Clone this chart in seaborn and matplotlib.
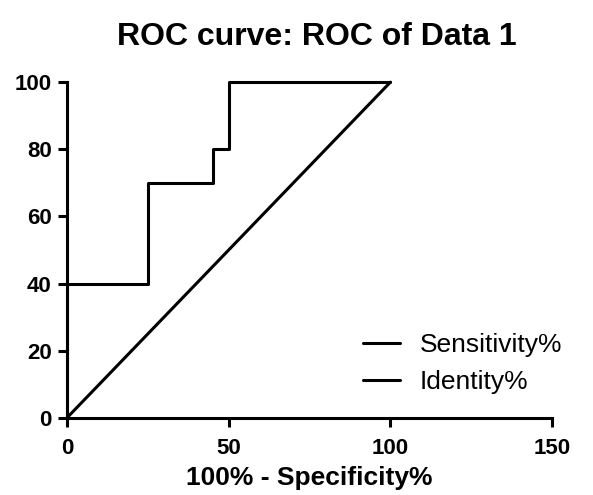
import matplotlib
matplotlib.use("Agg")
import matplotlib.pyplot as plt
import seaborn as sns
import pandas as pd

sns.set_theme(style="ticks", rc={"text.color": "black", "axes.labelcolor": "black",
                                 "xtick.color": "black", "ytick.color": "black",
                                 "axes.edgecolor": "black"})
plt.rcParams['font.family'] = ['Liberation Sans', 'DejaVu Sans']

# Data
spec_x = [0, 0, 25, 25, 45, 45, 50, 50, 100]
sens_y = [0, 40, 40, 70, 70, 80, 80, 100, 100]
ident_x = [0, 100]
ident_y = [0, 100]
x_ticks = [0, 50, 100, 150]
y_ticks = [0, 20, 40, 60, 80, 100]

sens_df = pd.DataFrame({"x": spec_x, "y": sens_y})
ident_df = pd.DataFrame({"x": ident_x, "y": ident_y})

fig = plt.figure(figsize=(5.93, 4.95), dpi=100)
ax = fig.add_axes([0.113, 0.156, 0.818, 0.678])

sns.lineplot(data=sens_df, x="x", y="y", ax=ax, color="black", lw=2.2,
             sort=False, estimator=None, label="Sensitivity%", clip_on=False)
sns.lineplot(data=ident_df, x="x", y="y", ax=ax, color="black", lw=2.2,
             sort=False, estimator=None, label="Identity%", clip_on=False)

ax.set_xlim(0, 150)
ax.set_ylim(0, 100)
ax.set_xticks(x_ticks)
ax.set_yticks(y_ticks)
for lbl in ax.get_xticklabels() + ax.get_yticklabels():
    lbl.set_fontweight("bold")
ax.tick_params(axis="both", direction="out", length=6.5, width=2.2,
               labelsize=16, colors="black", pad=4.5)
ax.tick_params(axis="x", pad=8)
for s in ["left", "bottom"]:
    ax.spines[s].set_linewidth(2.2)
    ax.spines[s].set_color("black")
sns.despine(ax=ax)

ax.set_xlabel("100% - Specificity%", fontsize=19, fontweight="bold", labelpad=5)
ax.set_ylabel("")
ax.set_title("ROC curve: ROC of Data 1", fontsize=23, fontweight="bold", pad=27, x=0.514)

leg = ax.legend(loc="center left", bbox_to_anchor=(0.610, 0.162), frameon=False,
                fontsize=19, handlelength=1.4, handletextpad=0.76,
                labelspacing=0.5, borderpad=0, borderaxespad=0)

fig.savefig("out.png", dpi=100)
